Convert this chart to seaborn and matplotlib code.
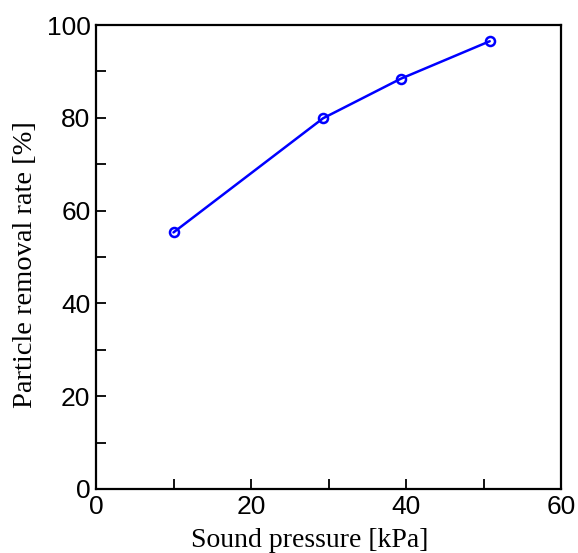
import matplotlib
matplotlib.use("Agg")
import matplotlib.pyplot as plt
from matplotlib.ticker import MultipleLocator
import seaborn as sns
import pandas as pd

sound_pressure = [10.0, 29.3, 39.3, 50.8]
removal_rate = [55.3, 79.9, 88.4, 96.5]

sns.set_style("ticks")
plt.rcParams['font.family'] = ['Liberation Sans', 'DejaVu Sans']
plt.rcParams['text.color'] = 'black'
plt.rcParams['axes.labelcolor'] = 'black'

df = pd.DataFrame({"pressure": sound_pressure, "rate": removal_rate})

fig, ax = plt.subplots(figsize=(5.78, 5.53), dpi=100)
fig.subplots_adjust(left=96/578, right=561/578, top=1-25/553, bottom=1-489/553)

sns.lineplot(data=df, x="pressure", y="rate", ax=ax, color="#0000ff",
             linewidth=1.8, marker="o", markersize=6.5, markerfacecolor="none",
             markeredgecolor="#0000ff", markeredgewidth=1.8)

ax.set_xlim(0, 60)
ax.set_ylim(0, 100)
ax.xaxis.set_major_locator(MultipleLocator(20))
ax.xaxis.set_minor_locator(MultipleLocator(10))
ax.yaxis.set_major_locator(MultipleLocator(20))
ax.yaxis.set_minor_locator(MultipleLocator(10))
ax.tick_params(which="both", direction="in", length=7, width=1.3,
               top=False, right=False, colors="black")
ax.tick_params(which="major", labelsize=19, pad=4)
for s in ax.spines.values():
    s.set_linewidth(1.6)
    s.set_color("black")

ax.set_xlabel("Sound pressure [kPa]", family="Liberation Serif", fontsize=20, labelpad=7)
ax.set_ylabel("Particle removal rate [%]", family="Liberation Serif", fontsize=20.5, labelpad=6)
ax.xaxis.label.set_x(0.46)
ax.yaxis.label.set_y(0.483)

fig.savefig("out.png", dpi=100)
